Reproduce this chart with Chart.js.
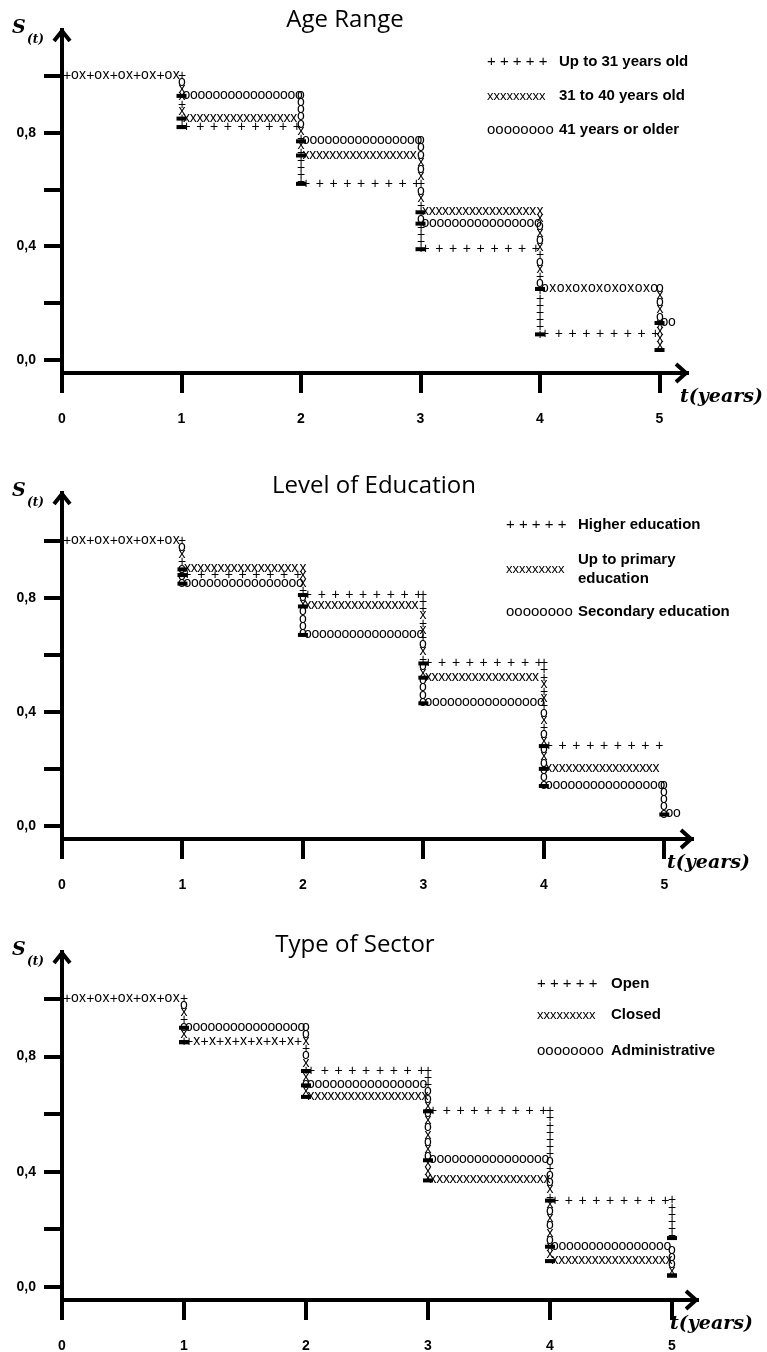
<!DOCTYPE html>
<html>
<head>
<meta charset="utf-8">
<script src="https://cdn.jsdelivr.net/npm/chart.js@4.4.1/dist/chart.umd.min.js"></script>
<style>
  html, body { margin: 0; padding: 0; background: #fff; }
  body { width: 767px; height: 1352px; position: relative; overflow: hidden; }
  .panel { position: absolute; left: 0; width: 767px; }
</style>
</head>
<body>
<div class="panel" style="top:0;height:440px"><canvas id="ageChart"></canvas></div>
<div class="panel" style="top:460px;height:440px"><canvas id="eduChart"></canvas></div>
<div class="panel" style="top:920px;height:432px"><canvas id="sectorChart"></canvas></div>
<script>
// shared axes
var yearTicks = [0, 1, 2, 3, 4, 5];
var survivalTicks = [0, 0.2, 0.4, 0.6, 0.8, 1.0];
var survivalLabels = { '0.0': '0,0', '0.4': '0,4', '0.8': '0,8' };

// Age range - S(t)
var ageTimes = [0, 1, 2, 3, 4, 5, 5.15];
var ageGroups = ['Up to 31 years old', '31 to 40 years old', '41 years or older'];
var ageUpTo31 = [1.00, 0.82, 0.62, 0.39, 0.09, 0.09];
var age31to40 = [1.00, 0.85, 0.72, 0.52, 0.25, 0.035];
var age41plus = [1.00, 0.93, 0.77, 0.48, 0.25, 0.13, 0.13];

// Level of education
var eduTimes = [0, 1, 2, 3, 4, 5, 5.15];
var eduGroups = ['Higher education', 'Up to primary\neducation', 'Secondary education'];
var eduHigher = [1.00, 0.88, 0.81, 0.57, 0.28, 0.28];
var eduPrimary = [1.00, 0.90, 0.77, 0.52, 0.20, 0.20];
var eduSecondary = [1.00, 0.85, 0.67, 0.43, 0.14, 0.04, 0.04];

// Type of sector
var sectorTimes = [0, 1, 2, 3, 4, 5];
var sectorGroups = ['Open', 'Closed', 'Administrative'];
var sectorOpen = [1.00, 0.85, 0.75, 0.61, 0.30, 0.17];
var sectorClosed = [1.00, 0.85, 0.66, 0.37, 0.09, 0.04];
var sectorAdmin = [1.00, 0.90, 0.70, 0.44, 0.14, 0.04];

var glyphs = ['+', 'x', 'o'];

var SANS = 'Arial, "Liberation Sans", sans-serif';
var GLYPH_FONT = '14px ' + SANS;
var glyphGap = { '+': 13.8, 'x': 6.7, 'o': 7.5 };
var mixGap = 7.8;
var colGap = 7.2;
var glyphOrder = ['+', 'o', 'x'];
var legendSample = { '+': '+ + + + +', 'x': 'xxxxxxxxx', 'o': 'oooooooo' };
var legendSampleSize = { '+': 15, 'x': 13, 'o': 15 };

function stepData(times, values) {
  return values.map(function (v, i) { return { x: times[i], y: v }; });
}

function covering(runs, p, lo, hi) {
  var seen = {};
  var out = [];
  runs.forEach(function (r) {
    if (p >= r.from + lo && p <= r.to + hi && !seen[r.g]) { seen[r.g] = true; out.push(r.g); }
  });
  out.sort(function (a, b) { return glyphOrder.indexOf(a) - glyphOrder.indexOf(b); });
  return out;
}

// draws each step curve as a row/column of typed characters
var glyphPlugin = {
  id: 'glyphs',
  afterDatasetsDraw: function (chart) {
    var rows = {}, cols = {};
    chart.data.datasets.forEach(function (ds, di) {
      var pts = chart.getDatasetMeta(di).data;
      for (var i = 0; i < pts.length - 1; i++) {
        var a = pts[i], b = pts[i + 1];
        var rk = Math.round(a.y);
        (rows[rk] = rows[rk] || []).push({ from: a.x, to: b.x, g: ds.glyph });
        if (Math.abs(b.y - a.y) > 0.5) {
          var ck = Math.round(b.x);
          (cols[ck] = cols[ck] || []).push({ from: Math.min(a.y, b.y), to: Math.max(a.y, b.y), g: ds.glyph });
        }
      }
    });
    var ctx = chart.ctx;
    ctx.save();
    ctx.fillStyle = '#000';
    ctx.font = GLYPH_FONT;
    ctx.textAlign = 'center';
    ctx.textBaseline = 'middle';
    function put(g, x, y) { ctx.fillText(g, x, g === '+' ? y : y - 1); }

    Object.keys(rows).forEach(function (k) {
      var runs = rows[k], y = +k;
      var start = Math.min.apply(null, runs.map(function (r) { return r.from; }));
      var end = Math.max.apply(null, runs.map(function (r) { return r.to; }));
      var p = start + 5, n = 0;
      while (p <= end - 2) {
        var c = covering(runs, p, 0, -2);
        if (!c.length) { p += 2; continue; }
        var g = c.length > 1 ? c[n % c.length] : c[0];
        put(g, p, y);
        p += c.length > 1 ? mixGap : glyphGap[g];
        n++;
      }
    });

    Object.keys(cols).forEach(function (k) {
      var runs = cols[k], x = +k;
      var top = Math.min.apply(null, runs.map(function (r) { return r.from; }));
      var bot = Math.max.apply(null, runs.map(function (r) { return r.to; }));
      var p = top, n = 0;
      while (p <= bot + 0.5) {
        var c = covering(runs, p, -0.5, 0.5);
        if (c.length) { put(c[n % c.length], x, p); n++; }
        p += colGap;
      }
    });
    ctx.restore();
  }
};

// axis arrows, title, axis names and the typed legend
var framePlugin = {
  id: 'frame',
  afterDraw: function (chart, args, o) {
    var a = chart.chartArea, ctx = chart.ctx;
    ctx.save();
    ctx.strokeStyle = '#000';
    ctx.lineWidth = 4;
    ctx.beginPath();
    ctx.moveTo(a.left - 8, a.top + 11); ctx.lineTo(a.left, a.top + 1); ctx.lineTo(a.left + 8, a.top + 11);
    ctx.stroke();
    ctx.beginPath();
    ctx.moveTo(a.right - 11, a.bottom - 9); ctx.lineTo(a.right - 1, a.bottom); ctx.lineTo(a.right - 11, a.bottom + 9);
    ctx.stroke();

    ctx.fillStyle = '#000';
    ctx.textAlign = 'center';
    ctx.textBaseline = 'alphabetic';
    ctx.font = '24px "Open Sans", sans-serif';
    ctx.fillText(o.title, o.titleX, o.titleY);

    ctx.textAlign = 'left';
    ctx.font = 'italic bold 19px "DejaVu Serif", serif';
    ctx.fillText('S', 12, a.top + 3);
    ctx.font = 'italic bold 12px "DejaVu Serif", serif';
    ctx.fillText('(t)', 27, a.top + 13);
    ctx.font = 'italic bold 19px "DejaVu Serif", serif';
    ctx.fillText('t(years)', o.tX, o.tY);

    ctx.textBaseline = 'middle';
    chart.data.datasets.forEach(function (ds, i) {
      var y = o.legendRows[i];
      ctx.font = legendSampleSize[ds.glyph] + 'px ' + SANS;
      ctx.fillText(legendSample[ds.glyph], o.legendX, y);
      ctx.font = 'bold 15px ' + SANS;
      var lines = ds.label.split('\n');
      lines.forEach(function (line, j) {
        ctx.fillText(line, o.legendLabelX, y + (j - (lines.length - 1) / 2) * 19);
      });
    });
    ctx.restore();
  }
};

function censorRadius(c) {
  var d = c.dataset.data, i = c.dataIndex;
  return i > 0 && d[i].y !== d[i - 1].y ? 5 : 0;
}

function makeChart(id, times, labels, series, lay) {
  var datasets = series.map(function (values, i) {
    return {
      label: labels[i],
      glyph: glyphs[i],
      data: stepData(times, values),
      showLine: false,
      pointStyle: 'line',
      pointRadius: censorRadius,
      pointHoverRadius: 0,
      pointBorderWidth: 4,
      pointBorderColor: '#000',
      borderColor: '#000'
    };
  });
  return new Chart(document.getElementById(id), {
    type: 'line',
    data: { datasets: datasets },
    options: {
      responsive: true,
      maintainAspectRatio: false,
      animation: false,
      events: [],
      layout: { padding: { top: lay.padTop, right: lay.padRight, left: 0, bottom: 0 } },
      plugins: {
        legend: { display: false },
        tooltip: { enabled: false },
        frame: lay
      },
      scales: {
        x: {
          type: 'linear',
          min: 0,
          max: lay.xMax,
          afterBuildTicks: function (s) { s.ticks = yearTicks.map(function (v) { return { value: v }; }); },
          afterFit: function (s) { s.height = lay.xHeight; },
          border: { display: true, color: '#000', width: 4 },
          grid: { drawOnChartArea: false, drawTicks: true, tickLength: 20, color: '#000', lineWidth: 4 },
          ticks: { color: '#000', padding: 18, maxRotation: 0, font: { family: SANS, weight: 'bold', size: 14 } }
        },
        y: {
          type: 'linear',
          min: lay.yMin,
          max: lay.yMax,
          afterBuildTicks: function (s) { s.ticks = survivalTicks.map(function (v) { return { value: v }; }); },
          afterFit: function (s) { s.width = 62; },
          border: { display: true, color: '#000', width: 4 },
          grid: { drawOnChartArea: false, drawTicks: true, tickLength: 18, color: '#000', lineWidth: 4 },
          ticks: {
            color: '#000', padding: 8, font: { family: SANS, weight: 'bold', size: 14 },
            callback: function (v) { return survivalLabels[Number(v).toFixed(1)] || ''; }
          }
        }
      }
    },
    plugins: [glyphPlugin, framePlugin]
  });
}

makeChart('ageChart', ageTimes, ageGroups, [ageUpTo31, age31to40, age41plus], {
  padTop: 30, padRight: 80, xHeight: 67, xMax: 5.23, yMin: -0.046, yMax: 1.162,
  title: 'Age Range', titleX: 345, titleY: 27, tX: 680, tY: 402,
  legendX: 487, legendLabelX: 559, legendRows: [62, 96, 130]
});

makeChart('eduChart', eduTimes, eduGroups, [eduHigher, eduPrimary, eduSecondary], {
  padTop: 33, padRight: 75, xHeight: 61, xMax: 5.23, yMin: -0.046, yMax: 1.168,
  title: 'Level of Education', titleX: 374, titleY: 33, tX: 667, tY: 408,
  legendX: 506, legendLabelX: 578, legendRows: [65, 109, 152]
});

makeChart('sectorChart', sectorTimes, sectorGroups, [sectorOpen, sectorClosed, sectorAdmin], {
  padTop: 32, padRight: 70, xHeight: 52, xMax: 5.205, yMin: -0.045, yMax: 1.163,
  title: 'Type of Sector', titleX: 355, titleY: 32, tX: 670, tY: 409,
  legendX: 537, legendLabelX: 611, legendRows: [64, 95, 131]
});
</script>
</body>
</html>
